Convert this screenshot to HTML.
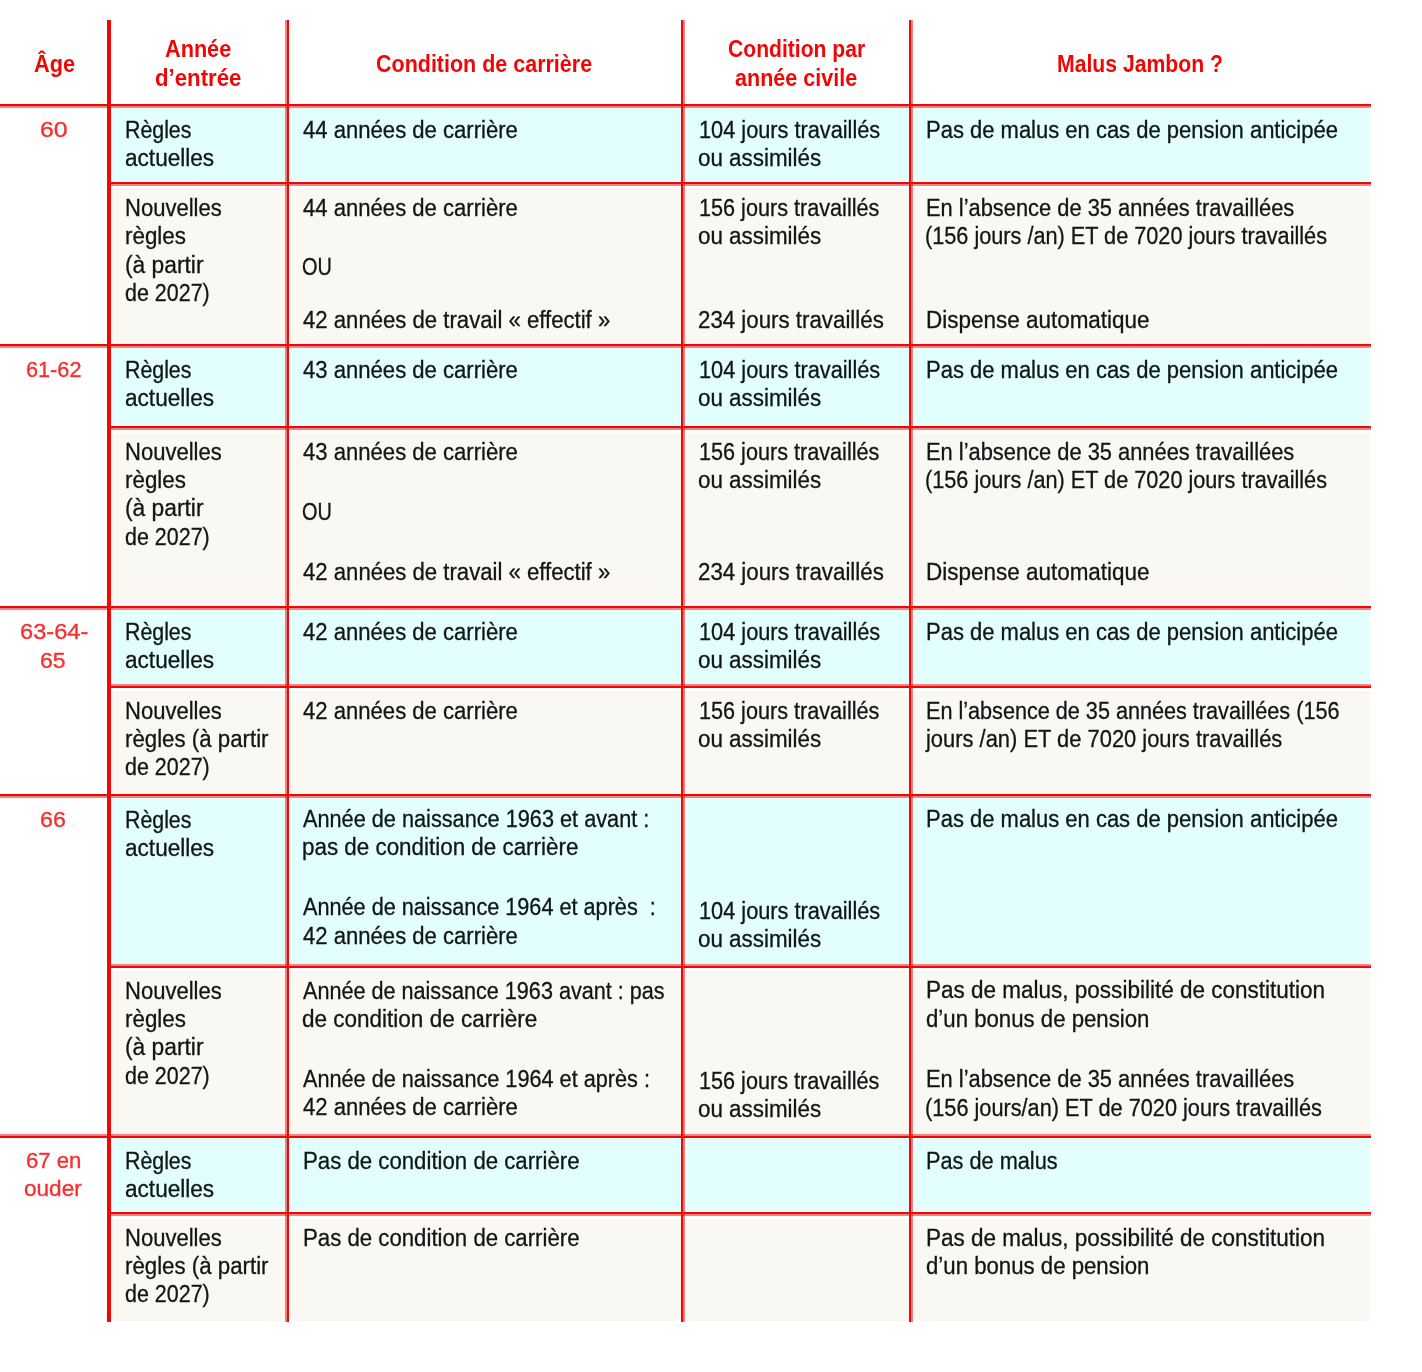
<!DOCTYPE html>
<html lang="fr"><head><meta charset="utf-8"><title>Conditions de pension</title>
<style>
html,body{margin:0;padding:0;background:#fff;}
body{width:1422px;height:1372px;position:relative;overflow:hidden;font-family:"Liberation Sans",sans-serif;}
.bg,.v,.h{position:absolute;}
.v,.h{background:#f10606;}
.t,.hd,.ag{position:absolute;white-space:pre;font-size:23px;line-height:26px;height:26px;color:#101616;transform-origin:0 0;}
.t{-webkit-text-stroke:0.3px #101616;}
.hd{font-weight:bold;color:#f10606;font-size:23px;}
.ag{color:#f62f30;font-size:21.5px;-webkit-text-stroke:0.35px #f62f30;}
</style></head><body>

<div class="bg" style="left:109px;top:108px;width:1261px;height:74.0px;background:#e2fefd"></div>
<div class="bg" style="left:109px;top:188.5px;width:1261px;height:155.5px;background:#faf8f3"></div>
<div class="bg" style="left:109px;top:348px;width:1261px;height:78.0px;background:#e2fefd"></div>
<div class="bg" style="left:109px;top:432.5px;width:1261px;height:173.5px;background:#faf8f3"></div>
<div class="bg" style="left:109px;top:610px;width:1261px;height:74.0px;background:#e2fefd"></div>
<div class="bg" style="left:109px;top:690.5px;width:1261px;height:103.5px;background:#faf8f3"></div>
<div class="bg" style="left:109px;top:798px;width:1261px;height:166.0px;background:#e2fefd"></div>
<div class="bg" style="left:109px;top:970.5px;width:1261px;height:163.5px;background:#faf8f3"></div>
<div class="bg" style="left:109px;top:1138px;width:1261px;height:74.0px;background:#e2fefd"></div>
<div class="bg" style="left:109px;top:1218.5px;width:1261px;height:102.0px;background:#faf8f3"></div>
<div class="h" style="left:0px;top:104px;width:1371px;height:2px;opacity:1"></div>
<div class="h" style="left:0px;top:106px;width:1371px;height:2px;opacity:0.5"></div>
<div class="h" style="left:108px;top:182px;width:1263px;height:2px;opacity:1"></div>
<div class="h" style="left:108px;top:184px;width:1263px;height:2px;opacity:0.5"></div>
<div class="h" style="left:0px;top:344px;width:1371px;height:2px;opacity:1"></div>
<div class="h" style="left:0px;top:346px;width:1371px;height:2px;opacity:0.5"></div>
<div class="h" style="left:108px;top:426px;width:1263px;height:2px;opacity:1"></div>
<div class="h" style="left:108px;top:428px;width:1263px;height:2px;opacity:0.5"></div>
<div class="h" style="left:0px;top:606px;width:1371px;height:2px;opacity:1"></div>
<div class="h" style="left:0px;top:608px;width:1371px;height:2px;opacity:0.5"></div>
<div class="h" style="left:108px;top:684px;width:1263px;height:2px;opacity:0.5"></div>
<div class="h" style="left:108px;top:686px;width:1263px;height:2px;opacity:1"></div>
<div class="h" style="left:0px;top:794px;width:1371px;height:2px;opacity:1"></div>
<div class="h" style="left:0px;top:796px;width:1371px;height:2px;opacity:0.5"></div>
<div class="h" style="left:108px;top:964px;width:1263px;height:2px;opacity:0.5"></div>
<div class="h" style="left:108px;top:966px;width:1263px;height:2px;opacity:1"></div>
<div class="h" style="left:0px;top:1134px;width:1371px;height:2px;opacity:0.5"></div>
<div class="h" style="left:0px;top:1136px;width:1371px;height:2px;opacity:1"></div>
<div class="h" style="left:108px;top:1212px;width:1263px;height:2px;opacity:1"></div>
<div class="h" style="left:108px;top:1214px;width:1263px;height:2px;opacity:0.5"></div>
<div class="v" style="left:107px;top:20px;width:4px;height:1302px;opacity:1"></div>
<div class="v" style="left:285px;top:20px;width:2px;height:1302px;opacity:0.5"></div>
<div class="v" style="left:287px;top:20px;width:2px;height:1302px;opacity:1"></div>
<div class="v" style="left:681px;top:20px;width:2px;height:1302px;opacity:1"></div>
<div class="v" style="left:683px;top:20px;width:2px;height:1302px;opacity:0.5"></div>
<div class="v" style="left:909px;top:20px;width:2px;height:1302px;opacity:1"></div>
<div class="v" style="left:911px;top:20px;width:2px;height:1302px;opacity:0.5"></div>
<div class="hd" id="x0" style="left:33.64px;top:50.60px;transform:scaleX(0.9452)">Âge</div>
<div class="hd" id="x1" style="left:165.18px;top:36.40px;transform:scaleX(0.9420)">Année</div>
<div class="hd" id="x2" style="left:155.03px;top:65.00px;transform:scaleX(0.9652)">d’entrée</div>
<div class="hd" id="x3" style="left:376.26px;top:50.60px;transform:scaleX(0.9341)">Condition de carrière</div>
<div class="hd" id="x4" style="left:727.62px;top:35.70px;transform:scaleX(0.9174)">Condition par</div>
<div class="hd" id="x5" style="left:735.30px;top:65.00px;transform:scaleX(0.9364)">année civile</div>
<div class="hd" id="x6" style="left:1057.12px;top:50.60px;transform:scaleX(0.9213)">Malus Jambon ?</div>
<div class="ag" id="x7" style="left:39.78px;top:116.70px;transform:scaleX(1.1556)">60</div>
<div class="ag" id="x8" style="left:26.19px;top:356.80px;transform:scaleX(1.0085)">61-62</div>
<div class="ag" id="x9" style="left:19.97px;top:618.80px;transform:scaleX(1.0992)">63-64-</div>
<div class="ag" id="x10" style="left:40.49px;top:647.90px;transform:scaleX(1.0697)">65</div>
<div class="ag" id="x11" style="left:40.48px;top:806.80px;transform:scaleX(1.0787)">66</div>
<div class="ag" id="x12" style="left:25.88px;top:1147.70px;transform:scaleX(1.0300)">67 en</div>
<div class="ag" id="x13" style="left:24.21px;top:1176.10px;transform:scaleX(1.0500)">ouder</div>
<div class="t" id="x14" style="left:124.84px;top:116.60px;transform:scaleX(0.9275)">Règles</div>
<div class="t" id="x15" style="left:124.87px;top:145.00px;transform:scaleX(0.9820)">actuelles</div>
<div class="t" id="x16" style="left:302.87px;top:116.60px;transform:scaleX(0.9604)">44 années de carrière</div>
<div class="t" id="x17" style="left:698.89px;top:116.60px;transform:scaleX(0.9451)">104 jours travaillés</div>
<div class="t" id="x18" style="left:698.22px;top:145.00px;transform:scaleX(0.9728)">ou assimilés</div>
<div class="t" id="x19" style="left:925.67px;top:116.60px;transform:scaleX(0.9560)">Pas de malus en cas de pension anticipée</div>
<div class="t" id="x20" style="left:124.82px;top:194.70px;transform:scaleX(0.9574)">Nouvelles</div>
<div class="t" id="x21" style="left:125.04px;top:223.10px;transform:scaleX(0.9719)">règles</div>
<div class="t" id="x22" style="left:124.76px;top:251.50px;transform:scaleX(0.9904)">(à partir</div>
<div class="t" id="x23" style="left:125.45px;top:279.90px;transform:scaleX(0.9330)">de 2027)</div>
<div class="t" id="x24" style="left:302.87px;top:194.70px;transform:scaleX(0.9604)">44 années de carrière</div>
<div class="t" id="x25" style="left:302.48px;top:254.30px;transform:scaleX(0.8656)">OU</div>
<div class="t" id="x26" style="left:302.87px;top:306.70px;transform:scaleX(0.9623)">42 années de travail « effectif »</div>
<div class="t" id="x27" style="left:698.90px;top:194.70px;transform:scaleX(0.9404)">156 jours travaillés</div>
<div class="t" id="x28" style="left:698.22px;top:223.10px;transform:scaleX(0.9728)">ou assimilés</div>
<div class="t" id="x29" style="left:697.99px;top:306.70px;transform:scaleX(0.9689)">234 jours travaillés</div>
<div class="t" id="x30" style="left:925.68px;top:194.70px;transform:scaleX(0.9506)">En l’absence de 35 années travaillées</div>
<div class="t" id="x31" style="left:925.48px;top:223.10px;transform:scaleX(0.9423)">(156 jours /an) ET de 7020 jours travaillés</div>
<div class="t" id="x32" style="left:925.64px;top:306.70px;transform:scaleX(0.9768)">Dispense automatique</div>
<div class="t" id="x33" style="left:124.84px;top:356.70px;transform:scaleX(0.9275)">Règles</div>
<div class="t" id="x34" style="left:124.87px;top:385.10px;transform:scaleX(0.9820)">actuelles</div>
<div class="t" id="x35" style="left:302.87px;top:356.70px;transform:scaleX(0.9604)">43 années de carrière</div>
<div class="t" id="x36" style="left:698.89px;top:356.70px;transform:scaleX(0.9451)">104 jours travaillés</div>
<div class="t" id="x37" style="left:698.22px;top:385.10px;transform:scaleX(0.9728)">ou assimilés</div>
<div class="t" id="x38" style="left:925.67px;top:356.70px;transform:scaleX(0.9560)">Pas de malus en cas de pension anticipée</div>
<div class="t" id="x39" style="left:124.82px;top:438.60px;transform:scaleX(0.9574)">Nouvelles</div>
<div class="t" id="x40" style="left:125.04px;top:467.00px;transform:scaleX(0.9719)">règles</div>
<div class="t" id="x41" style="left:124.76px;top:495.40px;transform:scaleX(0.9904)">(à partir</div>
<div class="t" id="x42" style="left:125.45px;top:523.80px;transform:scaleX(0.9330)">de 2027)</div>
<div class="t" id="x43" style="left:302.87px;top:438.60px;transform:scaleX(0.9604)">43 années de carrière</div>
<div class="t" id="x44" style="left:302.48px;top:498.60px;transform:scaleX(0.8656)">OU</div>
<div class="t" id="x45" style="left:302.87px;top:558.60px;transform:scaleX(0.9623)">42 années de travail « effectif »</div>
<div class="t" id="x46" style="left:698.90px;top:438.60px;transform:scaleX(0.9404)">156 jours travaillés</div>
<div class="t" id="x47" style="left:698.22px;top:467.00px;transform:scaleX(0.9728)">ou assimilés</div>
<div class="t" id="x48" style="left:697.99px;top:558.60px;transform:scaleX(0.9689)">234 jours travaillés</div>
<div class="t" id="x49" style="left:925.68px;top:438.60px;transform:scaleX(0.9506)">En l’absence de 35 années travaillées</div>
<div class="t" id="x50" style="left:925.48px;top:467.00px;transform:scaleX(0.9423)">(156 jours /an) ET de 7020 jours travaillés</div>
<div class="t" id="x51" style="left:925.64px;top:558.60px;transform:scaleX(0.9768)">Dispense automatique</div>
<div class="t" id="x52" style="left:124.84px;top:618.70px;transform:scaleX(0.9275)">Règles</div>
<div class="t" id="x53" style="left:124.87px;top:647.10px;transform:scaleX(0.9820)">actuelles</div>
<div class="t" id="x54" style="left:302.87px;top:618.70px;transform:scaleX(0.9604)">42 années de carrière</div>
<div class="t" id="x55" style="left:698.89px;top:618.70px;transform:scaleX(0.9451)">104 jours travaillés</div>
<div class="t" id="x56" style="left:698.22px;top:647.10px;transform:scaleX(0.9728)">ou assimilés</div>
<div class="t" id="x57" style="left:925.67px;top:618.70px;transform:scaleX(0.9560)">Pas de malus en cas de pension anticipée</div>
<div class="t" id="x58" style="left:124.82px;top:697.60px;transform:scaleX(0.9574)">Nouvelles</div>
<div class="t" id="x59" style="left:125.05px;top:726.00px;transform:scaleX(0.9679)">règles (à partir</div>
<div class="t" id="x60" style="left:125.45px;top:754.40px;transform:scaleX(0.9330)">de 2027)</div>
<div class="t" id="x61" style="left:302.87px;top:697.60px;transform:scaleX(0.9604)">42 années de carrière</div>
<div class="t" id="x62" style="left:698.90px;top:697.60px;transform:scaleX(0.9404)">156 jours travaillés</div>
<div class="t" id="x63" style="left:698.22px;top:726.00px;transform:scaleX(0.9728)">ou assimilés</div>
<div class="t" id="x64" style="left:925.70px;top:697.60px;transform:scaleX(0.9400)">En l’absence de 35 années travaillées (156</div>
<div class="t" id="x65" style="left:926.06px;top:726.00px;transform:scaleX(0.9523)">jours /an) ET de 7020 jours travaillés</div>
<div class="t" id="x66" style="left:124.84px;top:806.50px;transform:scaleX(0.9275)">Règles</div>
<div class="t" id="x67" style="left:124.87px;top:834.90px;transform:scaleX(0.9820)">actuelles</div>
<div class="t" id="x68" style="left:303.35px;top:806.20px;transform:scaleX(0.9436)">Année de naissance 1963 et avant :</div>
<div class="t" id="x69" style="left:302.24px;top:834.20px;transform:scaleX(0.9737)">pas de condition de carrière</div>
<div class="t" id="x70" style="left:303.35px;top:894.40px;transform:scaleX(0.9416)">Année de naissance 1964 et après  :</div>
<div class="t" id="x71" style="left:302.87px;top:922.80px;transform:scaleX(0.9604)">42 années de carrière</div>
<div class="t" id="x72" style="left:698.89px;top:897.70px;transform:scaleX(0.9451)">104 jours travaillés</div>
<div class="t" id="x73" style="left:698.22px;top:925.70px;transform:scaleX(0.9728)">ou assimilés</div>
<div class="t" id="x74" style="left:925.67px;top:806.20px;transform:scaleX(0.9560)">Pas de malus en cas de pension anticipée</div>
<div class="t" id="x75" style="left:124.82px;top:977.50px;transform:scaleX(0.9574)">Nouvelles</div>
<div class="t" id="x76" style="left:125.04px;top:1005.90px;transform:scaleX(0.9719)">règles</div>
<div class="t" id="x77" style="left:124.76px;top:1034.30px;transform:scaleX(0.9904)">(à partir</div>
<div class="t" id="x78" style="left:125.45px;top:1062.70px;transform:scaleX(0.9330)">de 2027)</div>
<div class="t" id="x79" style="left:303.35px;top:977.50px;transform:scaleX(0.9395)">Année de naissance 1963 avant : pas</div>
<div class="t" id="x80" style="left:302.37px;top:1005.50px;transform:scaleX(0.9786)">de condition de carrière</div>
<div class="t" id="x81" style="left:303.35px;top:1066.00px;transform:scaleX(0.9420)">Année de naissance 1964 et après :</div>
<div class="t" id="x82" style="left:302.87px;top:1094.00px;transform:scaleX(0.9604)">42 années de carrière</div>
<div class="t" id="x83" style="left:698.90px;top:1068.40px;transform:scaleX(0.9404)">156 jours travaillés</div>
<div class="t" id="x84" style="left:698.22px;top:1096.30px;transform:scaleX(0.9728)">ou assimilés</div>
<div class="t" id="x85" style="left:925.64px;top:977.20px;transform:scaleX(0.9784)">Pas de malus, possibilité de constitution</div>
<div class="t" id="x86" style="left:926.28px;top:1005.60px;transform:scaleX(0.9653)">d’un bonus de pension</div>
<div class="t" id="x87" style="left:925.68px;top:1066.10px;transform:scaleX(0.9506)">En l’absence de 35 années travaillées</div>
<div class="t" id="x88" style="left:925.47px;top:1094.50px;transform:scaleX(0.9444)">(156 jours/an) ET de 7020 jours travaillés</div>
<div class="t" id="x89" style="left:124.84px;top:1147.70px;transform:scaleX(0.9275)">Règles</div>
<div class="t" id="x90" style="left:124.87px;top:1176.10px;transform:scaleX(0.9820)">actuelles</div>
<div class="t" id="x91" style="left:302.66px;top:1147.70px;transform:scaleX(0.9656)">Pas de condition de carrière</div>
<div class="t" id="x92" style="left:925.69px;top:1147.70px;transform:scaleX(0.9445)">Pas de malus</div>
<div class="t" id="x93" style="left:124.82px;top:1224.60px;transform:scaleX(0.9574)">Nouvelles</div>
<div class="t" id="x94" style="left:125.05px;top:1253.00px;transform:scaleX(0.9679)">règles (à partir</div>
<div class="t" id="x95" style="left:125.45px;top:1281.40px;transform:scaleX(0.9330)">de 2027)</div>
<div class="t" id="x96" style="left:302.66px;top:1224.60px;transform:scaleX(0.9656)">Pas de condition de carrière</div>
<div class="t" id="x97" style="left:925.64px;top:1224.60px;transform:scaleX(0.9784)">Pas de malus, possibilité de constitution</div>
<div class="t" id="x98" style="left:926.28px;top:1253.00px;transform:scaleX(0.9653)">d’un bonus de pension</div>
</body></html>
